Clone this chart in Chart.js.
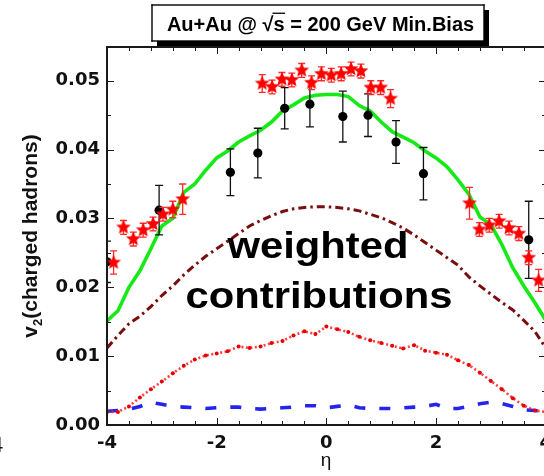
<!DOCTYPE html>
<html>
<head>
<meta charset="utf-8">
<script src="https://cdn.jsdelivr.net/npm/chart.js@4.4.1/dist/chart.umd.min.js"></script>
<style>
  html, body { margin: 0; padding: 0; background: #fff; overflow: hidden; width: 544px; height: 476px; }
  #wrap { position: absolute; left: 0; top: 0; width: 560px; height: 476px; }
  #c { position: absolute; left: 0; top: 0; }
  .edge { position: absolute; background: #1a1a1a; pointer-events: none; }
</style>
</head>
<body>
<div id="wrap"><canvas id="c" width="560" height="476"></canvas></div>
<script>
// ---- measured v2 of charged hadrons (stars: STAR-like set, dots: PHOBOS-like set) ----
const starEta = [-3.88, -3.70, -3.52, -3.34, -3.16, -2.98, -2.80, -2.62,
                 -1.17, -0.99, -0.81, -0.63, -0.45, -0.27, -0.09, 0.09, 0.27, 0.45, 0.63, 0.81, 0.99, 1.17,
                 2.61, 2.79, 2.97, 3.15, 3.33, 3.51, 3.69, 3.87];
const starV2  = [0.0236, 0.0287, 0.0270, 0.0283, 0.0292, 0.0306, 0.0313, 0.0328,
                 0.0496, 0.0491, 0.0502, 0.0501, 0.0515, 0.0497, 0.0510, 0.0508, 0.0510, 0.0517, 0.0514, 0.0490, 0.0490, 0.0474,
                 0.0322, 0.0284, 0.0290, 0.0296, 0.0286, 0.0278, 0.0243, 0.0210];
const starErr = [0.0017, 0.0010, 0.0010, 0.0010, 0.0010, 0.0010, 0.0012, 0.0022,
                 0.0013, 0.0010, 0.0010, 0.0010, 0.0010, 0.0010, 0.0010, 0.0010, 0.0010, 0.0010, 0.0010, 0.0010, 0.0010, 0.0013,
                 0.0023, 0.0010, 0.0010, 0.0010, 0.0010, 0.0010, 0.0010, 0.0016];

const dotEta = [-4.00, -3.05, -1.75, -1.25, -0.76, -0.30, 0.30, 0.76, 1.27, 1.77, 3.69];
const dotV2  = [0.0237, 0.0312, 0.0367, 0.0395, 0.0460, 0.0466, 0.0448, 0.0450, 0.0411, 0.0365, 0.0269];
const dotErr = [0.0030, 0.0036, 0.0034, 0.0036, 0.0030, 0.0033, 0.0037, 0.0031, 0.0031, 0.0038, 0.0056];

// ---- model curves on a common eta grid ----
const etaGrid = [-4.0, -3.8, -3.6, -3.4, -3.2, -3.0, -2.8, -2.6, -2.4, -2.2, -2.0, -1.8, -1.6, -1.4, -1.2, -1.0,
                 -0.8, -0.6, -0.4, -0.2, 0.0, 0.2, 0.4, 0.6, 0.8, 1.0, 1.2, 1.4, 1.6, 1.8, 2.0, 2.2, 2.4, 2.6,
                 2.8, 3.0, 3.2, 3.4, 3.6, 3.8, 4.0];
const totalV2 = [0.0151, 0.0166, 0.0200, 0.0224, 0.0256, 0.0289, 0.0300, 0.0338, 0.0350, 0.0370, 0.0388, 0.0398,
                 0.0411, 0.0420, 0.0428, 0.0440, 0.0456, 0.0465, 0.0475, 0.0479, 0.0480, 0.0480, 0.0477, 0.0464,
                 0.0456, 0.0440, 0.0426, 0.0418, 0.0410, 0.0398, 0.0388, 0.0375, 0.0356, 0.0335, 0.0302, 0.0291,
                 0.0262, 0.0228, 0.0202, 0.0178, 0.0152];
const contribA = [0.0112, 0.0130, 0.0147, 0.0158, 0.0172, 0.0188, 0.0202, 0.0218, 0.0232, 0.0245, 0.0256, 0.0267,
                  0.0278, 0.0289, 0.0297, 0.0304, 0.0310, 0.0314, 0.0316, 0.0317, 0.0317, 0.0316, 0.0314, 0.0311,
                  0.0306, 0.0301, 0.0294, 0.0286, 0.0276, 0.0265, 0.0254, 0.0243, 0.0232, 0.0215, 0.0202, 0.0190,
                  0.0178, 0.0167, 0.0152, 0.0136, 0.0112];
const contribB = [0.0019, 0.0019, 0.0027, 0.0040, 0.0052, 0.0063, 0.0075, 0.0086, 0.0095, 0.0101, 0.0104, 0.0107,
                  0.0114, 0.0112, 0.0114, 0.0119, 0.0122, 0.0130, 0.0136, 0.0132, 0.0143, 0.0139, 0.0135, 0.0128,
                  0.0123, 0.0119, 0.0115, 0.0111, 0.0116, 0.0108, 0.0105, 0.0102, 0.0094, 0.0087, 0.0076, 0.0064,
                  0.0052, 0.0039, 0.0028, 0.0021, 0.0019];
const contribC = [0.0020, 0.0021, 0.0023, 0.0027, 0.0033, 0.0030, 0.0027, 0.0026, 0.0025, 0.0024, 0.0025, 0.0026,
                  0.0026, 0.0024, 0.0023, 0.0024, 0.0025, 0.0026, 0.0028, 0.0028, 0.0025, 0.0027, 0.0029, 0.0025,
                  0.0024, 0.0024, 0.0024, 0.0025, 0.0026, 0.0027, 0.0030, 0.0024, 0.0024, 0.0027, 0.0031, 0.0033,
                  0.0031, 0.0027, 0.0022, 0.0021, 0.0020];

// ---- axis ticks ----
const xTickVals = [-4, -2, 0, 2, 4];
const yTickVals = [0.00, 0.01, 0.02, 0.03, 0.04, 0.05];

const toXY = (xs, ys) => xs.map((x, i) => ({ x: x, y: ys[i] }));

// filled five-pointed star marker
function makeStar(R, color) {
  const s = Math.ceil(R * 2 + 2);
  const cv = document.createElement('canvas');
  cv.width = s; cv.height = s;
  const g = cv.getContext('2d');
  const c = s / 2, r = R * 0.45;
  g.beginPath();
  for (let k = 0; k < 10; k++) {
    const rad = k % 2 === 0 ? R : r;
    const a = -Math.PI / 2 + k * Math.PI / 5;
    const px = c + rad * Math.cos(a), py = c + rad * Math.sin(a);
    k === 0 ? g.moveTo(px, py) : g.lineTo(px, py);
  }
  g.closePath();
  g.fillStyle = color;
  g.fill();
  return cv;
}
const starMarker = makeStar(7.8, '#ff0000');

// plot-area bounds taken from the scales themselves
function plotBounds(chart) {
  const xs = chart.scales.x, ys = chart.scales.y;
  return {
    left: xs.getPixelForValue(xs.min),
    right: xs.getPixelForValue(xs.max),
    top: ys.getPixelForValue(ys.max),
    bottom: ys.getPixelForValue(ys.min)
  };
}

// vertical error bars drawn just before the owning dataset
const errorBars = {
  id: 'errorBars',
  beforeDatasetDraw(chart, args) {
    const ds = chart.data.datasets[args.index];
    if (!ds.errors) return;
    const ctx = chart.ctx, y = chart.scales.y;
    const b = plotBounds(chart);
    ctx.save();
    ctx.beginPath();
    ctx.rect(b.left, b.top, b.right - b.left, b.bottom - b.top);
    ctx.clip();
    ctx.setLineDash([]);
    ctx.strokeStyle = ds.errColor;
    ctx.lineWidth = 1.3;
    args.meta.data.forEach((pt, i) => {
      const v = ds.data[i].y, e = ds.errors[i];
      const yt = y.getPixelForValue(v + e), yb = y.getPixelForValue(v - e);
      const x = pt.x, w = ds.capHalf;
      ctx.beginPath();
      ctx.moveTo(x, yt); ctx.lineTo(x, yb);
      ctx.moveTo(x - w, yt); ctx.lineTo(x + w, yt);
      ctx.moveTo(x - w, yb); ctx.lineTo(x + w, yb);
      ctx.stroke();
    });
    ctx.restore();
  }
};

// text drawn with an optional horizontal stretch
function stretchText(ctx, text, x, y, font, sx, align) {
  ctx.save();
  ctx.translate(x, y);
  ctx.scale(sx, 1);
  ctx.font = font;
  ctx.textAlign = align || 'center';
  ctx.textBaseline = 'alphabetic';
  ctx.fillText(text, 0, 0);
  ctx.restore();
}

// titles and annotations
const decorations = {
  id: 'decorations',
  afterDraw(chart) {
    const ctx = chart.ctx;
    ctx.save();
    ctx.setLineDash([]);
    ctx.globalAlpha = 1;
    ctx.fillStyle = '#111';

    // y-axis title: v_2(charged hadrons), rotated
    ctx.save();
    ctx.translate(37, 236);
    ctx.rotate(-Math.PI / 2);
    const big = 'bold 21px "Liberation Sans", Arial, sans-serif';
    const small = 'bold 13px "Liberation Sans", Arial, sans-serif';
    ctx.font = big;
    const wv = ctx.measureText('v').width;
    const wr = ctx.measureText('(charged hadrons)').width;
    ctx.font = small;
    const w2 = ctx.measureText('2').width;
    const sx0 = -(wv + w2 + wr) / 2;
    ctx.textBaseline = 'alphabetic';
    ctx.textAlign = 'left';
    ctx.font = big; ctx.fillText('v', sx0, 0);
    ctx.font = small; ctx.fillText('2', sx0 + wv, 5);
    ctx.font = big; ctx.fillText('(charged hadrons)', sx0 + wv + w2, 0);
    ctx.restore();

    // x-axis title
    stretchText(ctx, 'η', 326, 466, '19px "Liberation Sans", Arial, sans-serif', 1, 'center');
    // tick label of the neighbouring panel, cut by the page edge
    stretchText(ctx, '4', -9, 452, '22px "Liberation Sans", Arial, sans-serif', 1, 'left');

    // annotation inside the frame
    ctx.fillStyle = '#000';
    stretchText(ctx, 'weighted', 318, 258, 'bold 36px "Liberation Sans", Arial, sans-serif', 1.16, 'center');
    stretchText(ctx, 'contributions', 319, 308, 'bold 36px "Liberation Sans", Arial, sans-serif', 1.16, 'center');

    // title box with drop shadow
    const bx = 152, by = 5, bw = 332, bh = 36;
    ctx.fillStyle = '#000';
    ctx.fillRect(bx + 5, by + 5, bw, bh);
    ctx.fillStyle = '#fff';
    ctx.fillRect(bx, by, bw, bh);
    ctx.fillStyle = '#000';
    ctx.fillRect(bx - 0.7, by - 0.7, bw + 1.4, 1.4);
    ctx.fillRect(bx - 0.7, by + bh - 0.7, bw + 1.4, 1.4);
    ctx.fillRect(bx - 0.7, by - 0.7, 1.4, bh + 1.4);
    ctx.fillRect(bx + bw - 0.7, by - 0.7, 1.4, bh + 1.4);

    const tf = 'bold 20px "Liberation Sans", Arial, sans-serif';
    ctx.font = tf;
    const p1 = 'Au+Au @ \u221A', p2 = 's', p3 = ' = 200 GeV Min.Bias';
    const w1 = ctx.measureText(p1).width, wS = ctx.measureText(p2).width, w3 = ctx.measureText(p3).width;
    const tx = 320.5 - (w1 + wS + w3) / 2, ty = 30.5;
    ctx.textAlign = 'left';
    ctx.textBaseline = 'alphabetic';
    ctx.fillText(p1, tx, ty);
    ctx.fillText(p2, tx + w1, ty);
    ctx.fillText(p3, tx + w1 + wS, ty);
    ctx.fillRect(tx + w1 - 1, 12.6, wS + 1.5, 1.3);
    ctx.restore();
  }
};

const tickFont = { family: '"DejaVu Sans", sans-serif', weight: 'bold', size: 18 };

const chart = new Chart(document.getElementById('c'), {
  type: 'line',
  data: {
    datasets: [
      {
        label: 'stars', data: toXY(starEta, starV2), showLine: false,
        pointStyle: starMarker, pointRadius: 7, errors: starErr, errColor: '#ff2a2a', capHalf: 3.5
      },
      {
        label: 'dots', data: toXY(dotEta, dotV2), showLine: false, clip: 0,
        pointStyle: 'circle', pointRadius: 4.6, pointBackgroundColor: '#000', pointBorderWidth: 0,
        errors: dotErr, errColor: '#111', capHalf: 4
      },
      {
        label: 'total', data: toXY(etaGrid, totalV2), borderColor: '#16ea16', borderWidth: 3.6,
        pointRadius: 0, tension: 0, fill: false
      },
      {
        label: 'a', data: toXY(etaGrid, contribA), borderColor: '#7a0d0d', borderWidth: 3,
        borderDash: [8, 4, 2.5, 4], pointRadius: 0, tension: 0, fill: false
      },
      {
        label: 'b', data: toXY(etaGrid, contribB), borderColor: 'rgba(255,30,30,0.85)', borderWidth: 2.6,
        borderDash: [2, 2.5], pointRadius: 2, pointBackgroundColor: '#e80000', pointBorderWidth: 0,
        tension: 0, fill: false
      },
      {
        label: 'c', data: toXY(etaGrid, contribC), borderColor: '#2424ee', borderWidth: 3.6,
        borderDash: [11, 14], pointRadius: 0, tension: 0, fill: false
      }
    ]
  },
  options: {
    responsive: false,
    animation: false,
    devicePixelRatio: 1,
    layout: { padding: { left: 0, right: 13, top: 47, bottom: 0 } },
    plugins: { legend: { display: false }, tooltip: { enabled: false } },
    scales: {
      x: {
        type: 'linear', min: -4, max: 4,
        grid: { display: false, drawTicks: false }, border: { display: false },
        ticks: { font: tickFont, color: '#111', padding: 8, maxRotation: 0, autoSkip: false,
                 callback: v => String(v) },
        afterBuildTicks: s => { s.ticks = xTickVals.map(v => ({ value: v })); },
        afterFit: s => { s.height = 51; }
      },
      y: {
        type: 'linear', min: 0, max: 0.0549,
        grid: { display: false, drawTicks: false }, border: { display: false },
        ticks: { font: tickFont, color: '#111', padding: 7, autoSkip: false,
                 callback: v => v.toFixed(2) },
        afterBuildTicks: s => { s.ticks = yTickVals.map(v => ({ value: v })); },
        afterFit: s => { s.width = 107; }
      }
    }
  },
  plugins: [errorBars, decorations]
});

// plot frame and inward tick marks as thin overlay bars, placed from the chart's scales
(function addFrame() {
  const wrap = document.getElementById('wrap');
  const xs = chart.scales.x, ys = chart.scales.y;
  const b = plotBounds(chart);
  const bar = (x, y, w, h) => {
    const d = document.createElement('div');
    d.className = 'edge';
    d.style.left = x + 'px'; d.style.top = y + 'px';
    d.style.width = w + 'px'; d.style.height = h + 'px';
    wrap.appendChild(d);
  };
  const lw = 2;
  bar(b.left - 1, b.top - 1, b.right - b.left + lw, lw);
  bar(b.left - 1, b.bottom - 1, b.right - b.left + lw, lw);
  bar(b.left - 1, b.top - 1, lw, b.bottom - b.top + lw);
  bar(b.right - 1, b.top - 1, lw, b.bottom - b.top + lw);
  for (let k = 0; k <= 20; k++) {
    const px = Math.round(xs.getPixelForValue(-4 + k * 0.4));
    const len = (k % 5 === 0) ? 7 : 4;
    bar(px - 0.5, b.bottom - len, 1.5, len);
    bar(px - 0.5, b.top, 1.5, len);
  }
  for (let k = 0; k <= 10; k++) {
    const py = Math.round(ys.getPixelForValue(k * 0.005));
    const len = (k % 2 === 0) ? 7 : 4;
    bar(b.left, py - 0.5, len, 1.5);
    bar(b.right - len, py - 0.5, len, 1.5);
  }
})();
</script>
</body>
</html>
